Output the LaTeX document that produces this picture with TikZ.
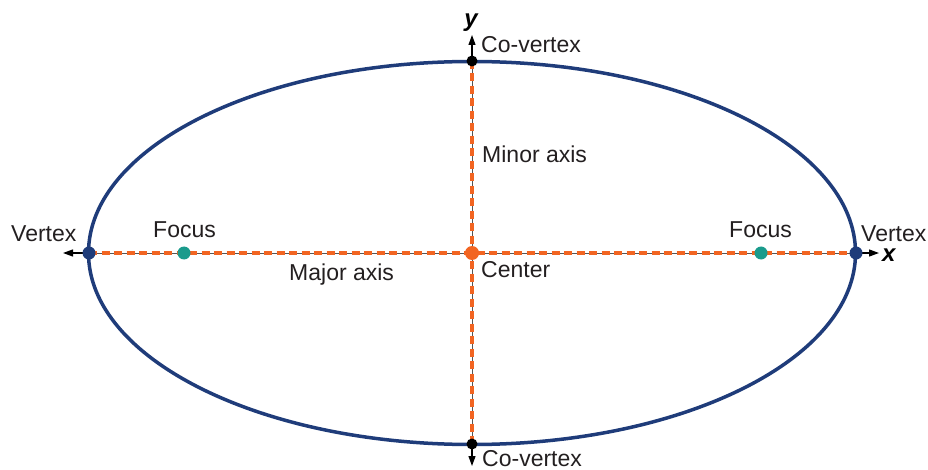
\documentclass[tikz,border=0pt]{standalone}
\usepackage{fontspec}
\setmainfont{Liberation Sans}
\usetikzlibrary{arrows.meta}
\definecolor{navy}{HTML}{1F3C7A}
\definecolor{axorange}{HTML}{F26522}
\definecolor{focusteal}{HTML}{1A9B8C}
\definecolor{txt}{HTML}{231F20}
\definecolor{axgray}{HTML}{555555}
\begin{document}
\begin{tikzpicture}[x=1pt,y=-1pt,
  lbl/.style={inner sep=0pt,anchor=base west,text=txt,font=\fontsize{23}{27}\selectfont},
  axlbl/.style={inner sep=0pt,text=black,font=\fontsize{24}{28}\selectfont\bfseries\itshape},
  dotpt/.style={circle,inner sep=0pt,minimum size=#1},
  axisarrow/.style={black,line width=1.2pt,-{Triangle[length=10pt,width=7pt]}},
  axisline/.style={axgray,line width=1pt},
  orangedash/.style={axorange,line width=3.5pt,dash pattern=on 8pt off 4.5pt}]
\useasboundingbox (0,0) rectangle (928,470);
% ellipse
\draw[navy,line width=3.5pt] (472,253) ellipse [x radius=383.5,y radius=191.5];
% axis end points
\coordinate (xL) at (63,253);
\coordinate (xR) at (879,253);
\coordinate (yT) at (472,35);
\coordinate (yB) at (472,466);
% special points
\node[dotpt=12pt] (vL) at (89,253) {};
\node[dotpt=12pt] (vR) at (856,253) {};
\node[dotpt=12pt] (fL) at (184,253) {};
\node[dotpt=12pt] (fR) at (761,253) {};
\node[dotpt=11pt] (cT) at (472,61) {};
\node[dotpt=11pt] (cB) at (472,444) {};
\node[dotpt=13pt] (ctr) at (472,253) {};
% axes
\draw[axisline] (vL.center) -- (vR.center);
\draw[axisline] (cT.center) -- (cB.center);
\draw[orangedash] (vL.center) -- (vR.center);
\draw[orangedash] (cT.center) -- (cB.center);
\draw[axisarrow] (vL.center) -- (xL);
\draw[axisarrow] (vR.center) -- (xR);
\draw[axisarrow] (cT.center) -- (yT);
\draw[axisarrow] (cB.center) -- (yB);
% dots
\fill[navy] (vL) circle (6.5pt);
\fill[navy] (vR) circle (6.5pt);
\fill[focusteal] (fL) circle (6.5pt);
\fill[focusteal] (fR) circle (6.5pt);
\fill[black] (cT) circle (5.5pt);
\fill[black] (cB) circle (5.5pt);
\fill[axorange] (ctr) circle (7pt);
% labels
\node[lbl] (tVL) at (11,242) {Vertex};
\node[lbl] (tVR) at (861,242) {Vertex};
\node[lbl] (tFL) at (153,238) {Focus};
\node[lbl] (tFR) at (729,238) {Focus};
\node[lbl] (tCT) at (481,53) {Co-vertex};
\node[lbl] (tCB) at (482,466) {Co-vertex};
\node[lbl] (tMin) at (482,163) {Minor axis};
\node[lbl] (tMaj) at (289,280) {Major axis};
\node[lbl] (tCtr) at (481,277) {Center};
\node[axlbl,anchor=west] (tx) at (882,255) {x};
\node[axlbl,anchor=base] (ty) at (471,27) {y};
\end{tikzpicture}
\end{document}
